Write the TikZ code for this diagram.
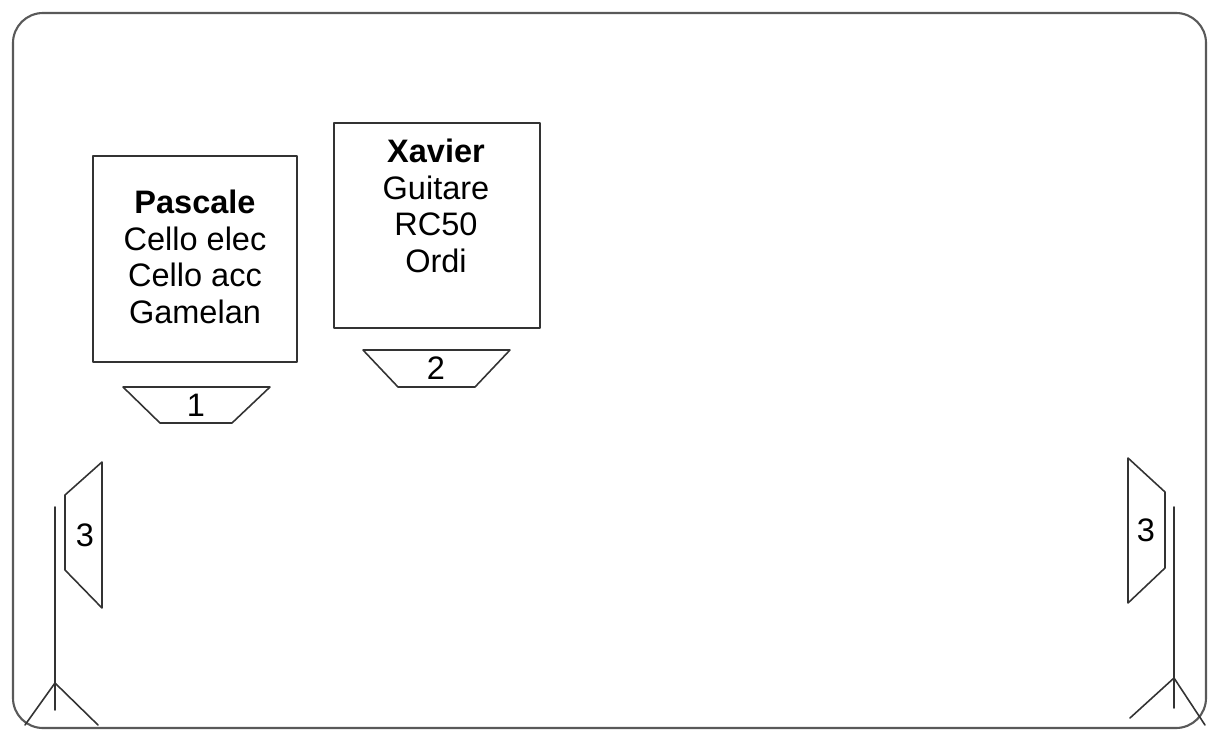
\documentclass[tikz,border=0pt]{standalone}
\usepackage{fontspec}
\setmainfont{Liberation Sans}
\begin{document}
\begin{tikzpicture}[x=0.02cm,y=-0.02cm,line join=round,line cap=round,font=\fontsize{18.5}{20.8}\selectfont]
	\tikzset{
		plan/.style={draw=black!80,line width=0.9pt},
		musician/.style={align=center,inner sep=0pt},
		label/.style={inner sep=0pt},
	}
	\useasboundingbox (0,0) rectangle (1211,734);
	\draw[draw=black!65,line width=1.2pt,rounded corners=0.6cm] (13,13) rectangle (1206,728);
	% pupitres
	\draw[plan] (93,156) rectangle (297,362);
	\node[musician] (pascale) at (195,257) {\textbf{Pascale}\\Cello elec\\Cello acc\\Gamelan};
	\draw[plan] (334,123) rectangle (540,328);
	\node[musician] (xavier) at (436,206) {\textbf{Xavier}\\Guitare\\RC50\\Ordi};
	% retours
	\draw[plan] (123,387)--(270,387)--(232,423)--(160,423)--cycle;
	\node[label] (ret1) at (196,405) {1};
	\draw[plan] (363,350)--(510,350)--(475,387)--(398,387)--cycle;
	\node[label] (ret2) at (436,368) {2};
	% facades
	\draw[plan] (102,462)--(102,608)--(65,570)--(65,495)--cycle;
	\node[label] (faceG) at (85,535) {3};
	\draw[plan] (1128,458)--(1128,603)--(1165,568)--(1165,492)--cycle;
	\node[label] (faceD) at (1146,530) {3};
	% pieds
	\draw[plan] (55,507)--(55,710) (25,725)--(55,683)--(98,725);
	\draw[plan] (1174,507)--(1174,708) (1130,718)--(1174,678)--(1205,725);
\end{tikzpicture}
\end{document}
